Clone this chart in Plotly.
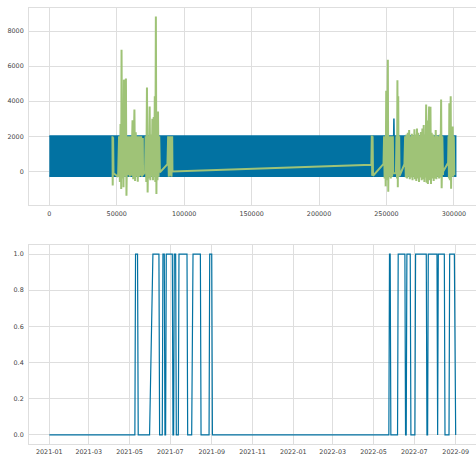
import plotly.graph_objects as go

# ---------------- top panel data ----------------
# envelope of the dense blue signal (min / max over the index range)
signal_x = [0, 301300]
signal_max = [2020, 2020]
signal_min = [-270, -270]
# a single blue excursion above the envelope
blue_spike_x = [255300, 255500, 255700]
blue_spike_y = [1800, 3020, 1800]

# green (anomalous) values, ordered by index
green_x = [
    46800, 47000, 47300, 47600,
    51000, 51700, 52300, 52800, 53300, 53550, 54000, 54500, 55000, 55300, 55800,
    56300, 56800, 57200, 57800, 58400, 59000, 59600, 60200, 60800, 61300, 61700,
    62200, 62700, 63100, 63600, 64100, 64600, 65100, 65600, 66100, 66600, 67100,
    67600, 68100, 68700, 69300, 69500,
    71000, 71400, 71900, 72400, 72900, 73400, 73900, 74400, 74900, 75400, 75900,
    76400, 76900, 77400, 77800, 78200, 78600, 79000, 79400, 79800, 80200, 80600,
    81000, 81500, 82000,
    87600, 88100, 88600, 89100, 89600, 90100, 90600, 91100, 91300,
    238800, 239100, 239400, 239700, 240000,
    247800, 248200, 248600, 249000, 249400, 249800, 250300, 250700, 251000, 251300,
    251700, 252200, 252700, 253200, 253700, 254200, 254700, 255000,
    257000, 257400, 257800, 258100, 258400, 258700, 259000, 259400, 259700,
    263300, 263800, 264300, 264800, 265300, 265800, 266300, 266800, 267300, 267800,
    268300, 268800, 269300, 269800, 270300, 270700, 271100, 271600, 272100, 272600,
    273100, 273600, 274100, 274600, 275100, 275600, 276100, 276600, 277100, 277600,
    278100, 278600, 279000, 279400, 279800, 280300, 280700, 281200, 281600, 282000,
    282600, 283000, 283500, 284000, 284500, 285000, 285500, 286000, 286500, 287000,
    287500, 288000, 288500, 289000, 289500, 290000, 290500, 290900, 291400, 291900,
    292000,
    295700, 296000, 296300, 296600, 297000, 297600, 297900, 298300, 298700, 299100,
    299500, 299900, 300300,
]
green_y = [
    2000, -800, 1950, -100,
    -300, 2000, -600, 2700, -1000, 6930, -400, 3720, -900, 5230, -300,
    2000, 5300, -1380, 2000, -200, 2000, -300, 2000, -250, 2100, 2920,
    -450, 2000, 3530, -550, 2230, -300, 2000, -590, 2000, -300, 2000,
    -250, 2000, -300, 1900, -200,
    0, 2000, -600, 4780, -1200, 2000, -400, 3700, -500, 2100, -300,
    3000, -500, 3100, -300, 4280, -600, 8820, -1290, 3050, -500, 3420,
    -300, 2000, -50,
    413, 2000, -300, 2000, -250, 2000, -300, 2000, 0,
    375, 2050, -250, 2000, -250,
    435, 2000, -400, 2000, -850, 4600, -500, 2000, 6360, -1155,
    2000, -300, 2000, -400, 2000, -300, 2000, -100,
    -100, 2000, -400, 5200, -900, 4280, -300, 2000, -250,
    413, 2000, -350, 2100, -400, 2200, -300, 2360, -450, 2000,
    -350, 2150, -500, 2050, -300, 2400, -450, 2100, -550, 2450,
    -400, 2200, -600, 2050, -350, 2250, -500, 2450, -450, 2640,
    -600, 2100, -350, 3810, -650, 2900, -720, 2300, 3700, -500,
    3680, -720, 2200, -400, 2100, -550, 2000, -400, 2360, -450,
    2050, -300, 2000, -400, 2100, -350, 4100, -960, 2000, -200,
    0,
    500, 2000, -400, 3880, -500, 4280, -990, 2000, -300, 2560,
    -300, 2000, -200,
]

top_xticks = [0, 50000, 100000, 150000, 200000, 250000, 300000]
top_yticks = [0, 2000, 4000, 6000, 8000]

# ---------------- bottom panel data ----------------
flag_dates = [
    "2021-01-01", "2021-05-09", "2021-05-10", "2021-05-13", "2021-05-14",
    "2021-05-31", "2021-06-05", "2021-06-14", "2021-06-15", "2021-06-19",
    "2021-06-20", "2021-06-22", "2021-06-23", "2021-06-24", "2021-06-25",
    "2021-07-04", "2021-07-05", "2021-07-06", "2021-07-07", "2021-07-09",
    "2021-07-10", "2021-07-13", "2021-07-14", "2021-07-26", "2021-07-27",
    "2021-08-02", "2021-08-04", "2021-08-15", "2021-08-16", "2021-08-28",
    "2021-08-29", "2021-09-01", "2021-09-02",
    "2022-05-24", "2022-05-25", "2022-05-26", "2022-05-27",
    "2022-06-06", "2022-06-07", "2022-06-17", "2022-06-18", "2022-06-19",
    "2022-06-20", "2022-06-25", "2022-06-26", "2022-07-02", "2022-07-03",
    "2022-07-19", "2022-07-20", "2022-07-21", "2022-07-22", "2022-08-04",
    "2022-08-05", "2022-08-06", "2022-08-15", "2022-08-16", "2022-08-22",
    "2022-08-23", "2022-08-30", "2022-08-31", "2022-09-01",
]
flag_values = [
    0, 0, 1, 1, 0,
    0, 1, 1, 0, 0,
    1, 1, 0, 0, 1,
    1, 0, 0, 1, 1,
    0, 0, 1, 1, 0,
    0, 1, 1, 0, 0,
    1, 1, 0,
    0, 1, 1, 0,
    0, 1, 1, 0, 0,
    1, 1, 0, 0, 1,
    1, 0, 0, 1, 1,
    0, 1, 1, 0, 0,
    1, 1, 0, 0,
]
bottom_yticks = [0.0, 0.2, 0.4, 0.6, 0.8, 1.0]

BLUE = "#0272a2"
GREEN = "#9fc377"
GRID = "#dedede"
TICK_FONT = dict(family="DejaVu Sans", size=6.4, color="#444444")

fig = go.Figure()

band_x = signal_x + signal_x[::-1]
band_y = signal_max + signal_min[::-1]
fig.add_trace(go.Scatter(x=band_x, y=band_y, mode="lines", fill="toself",
                         fillcolor=BLUE, line=dict(color=BLUE, width=1.5),
                         xaxis="x", yaxis="y", hoverinfo="skip"))
fig.add_trace(go.Scatter(x=blue_spike_x, y=blue_spike_y, mode="lines",
                         line=dict(color=BLUE, width=1.5), xaxis="x", yaxis="y"))
fig.add_trace(go.Scatter(x=green_x, y=green_y, mode="lines",
                         line=dict(color=GREEN, width=2.0), xaxis="x", yaxis="y"))

fig.add_trace(go.Scatter(x=flag_dates, y=flag_values, mode="lines",
                         line=dict(color=BLUE, width=1.2), xaxis="x2", yaxis="y2"))

axis_common = dict(showgrid=True, gridcolor=GRID, gridwidth=1, zeroline=False,
                   showline=True, linecolor=GRID, linewidth=1, mirror=True,
                   ticks="", tickfont=TICK_FONT, automargin=False)

fig.update_layout(
    width=476, height=457,
    margin=dict(l=29, r=0, t=8, b=13),
    paper_bgcolor="white", plot_bgcolor="white",
    showlegend=False,
    xaxis=dict(domain=[0, 1], anchor="y", range=[-15065, 316365],
               tickvals=top_xticks, ticktext=[str(v) for v in top_xticks],
               ticklabelstandoff=2, **axis_common),
    yaxis=dict(domain=[0.5482, 1.0], anchor="x", range=[-1910, 9310],
               tickvals=top_yticks, ticktext=[str(v) for v in top_yticks],
               ticklabelstandoff=3, **axis_common),
    xaxis2=dict(domain=[0, 1], anchor="y2", type="date",
                range=["2020-12-01 14:24", "2022-10-01 09:36"],
                dtick="M2", tick0="2021-01-01", tickformat="%Y-%m",
                ticklabelstandoff=1, **axis_common),
    yaxis2=dict(domain=[0, 0.4564], anchor="x2", range=[-0.05, 1.05],
                tickvals=bottom_yticks, ticktext=[f"{v:.1f}" for v in bottom_yticks],
                ticklabelstandoff=3, **axis_common),
)

fig.write_html("out.html",
               config={"displayModeBar": False},
               post_script="document.body.style.margin='0';document.body.style.overflow='hidden';")
